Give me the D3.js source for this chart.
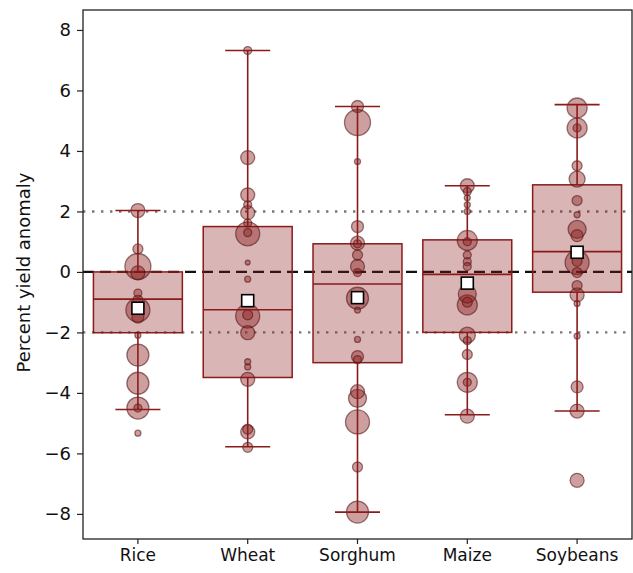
<!DOCTYPE html>
<html lang="en">
<head>
<meta charset="utf-8">
<title>Percent yield anomaly by crop</title>
<style>
   html,body { margin:0; padding:0; background:white; }
   svg { display:block; font-family:"DejaVu Sans",sans-serif; }
</style>
<script src="https://d3js.org/d3.v7.min.js"></script>
</head>
<body>
<script>
// crops and box summaries
let crops = ['Rice','Wheat','Sorghum','Maize','Soybeans'];
let q1 = [-2.01,-3.49,-3.0,-2.0,-0.67];
let med = [-0.9,-1.25,-0.4,-0.08,0.67];
let q3 = [0.0,1.5,0.93,1.06,2.88];
let whiskLo = [-4.55,-5.78,-7.94,-4.72,-4.6];
let whiskHi = [2.03,7.32,5.47,2.85,5.53];
let means = [-1.2,-0.95,-0.85,-0.37,0.65];

// individual estimates per crop, and their weights (marker area)
let riceVals = [2.03,0.76,0.18,-0.03,-0.7,-0.93,-1.26,-1.49,-2.09,-2.75,-3.68,-4.5,-4.5,-5.33];
let riceW = [49,25,169,49,16,25,144,36,9,121,121,121,16,9];
let wheatVals = [7.32,3.78,2.55,2.22,1.96,1.62,1.26,1.3,0.31,-0.24,-1.46,-1.42,-2.01,-2.97,-3.14,-3.55,-5.2,-5.29,-5.8];
let wheatW = [16,49,49,16,49,16,144,16,6,9,144,25,49,9,9,49,25,49,25];
let sorghumVals = [5.47,4.94,3.65,1.5,0.95,0.93,0.56,0.18,-0.02,-0.87,-1.26,-2.23,-2.8,-2.9,-3.96,-4.18,-4.96,-6.45,-7.94];
let sorghumW = [36,169,9,36,49,16,25,49,16,121,9,9,36,16,49,81,144,25,121];
let maizeVals = [2.85,2.66,2.45,2.22,2.0,1.04,1.0,0.56,0.34,0.18,-0.73,-1.0,-1.09,-2.09,-2.27,-2.73,-3.65,-3.65,-4.77];
let maizeW = [49,16,9,9,9,100,16,16,16,16,81,25,100,64,16,25,100,16,49];
let soyVals = [5.42,4.76,4.76,3.51,3.07,2.36,1.89,1.41,1.2,0.31,0.35,-0.02,-0.45,-0.76,-1.04,-2.12,-3.8,-4.6,-6.89];
let soyW = [100,100,16,25,64,25,9,81,36,144,25,25,25,49,9,9,36,49,49];
let pointVals = [riceVals,wheatVals,sorghumVals,maizeVals,soyVals];
let pointW = [riceW,wheatW,sorghumW,maizeW,soyW];

let yTicks = [-8,-6,-4,-2,0,2,4,6,8];
let refLines = [-2,2];

const W = 633, H = 573;
const margin = {top:10, right:1, bottom:34, left:83};
const red = '#8b1a1a';

const svg = d3.select('body').append('svg').attr('width',W).attr('height',H);

const x = d3.scaleBand().domain(crops).range([margin.left, W - margin.right]).padding(0);
const y = d3.scaleLinear().domain([-8.83, 8.66]).range([H - margin.bottom, margin.top]);
const r = d3.scaleSqrt().domain([0,169]).range([0,13]);
const cx = c => x(c) + x.bandwidth()/2;
const boxW = x.bandwidth()*0.81, capW = x.bandwidth()*0.41;

// reference lines under the boxes
svg.append('g').selectAll('line').data(refLines).join('line')
   .attr('x1', margin.left).attr('x2', W - margin.right)
   .attr('y1', d => y(d)).attr('y2', d => y(d))
   .attr('stroke','#777').attr('stroke-width',2.4).attr('stroke-dasharray','2.4,6.6');
svg.append('line')
   .attr('x1', margin.left).attr('x2', W - margin.right)
   .attr('y1', y(0)).attr('y2', y(0))
   .attr('stroke','#111').attr('stroke-width',2.2).attr('stroke-dasharray','11,6');

// boxes
let stats = crops.map((c,i) => ({crop:c, q1:q1[i], med:med[i], q3:q3[i], lo:whiskLo[i], hi:whiskHi[i], mean:means[i]}));
let gb = svg.append('g');
gb.selectAll('rect').data(stats).join('rect')
   .attr('x', d => cx(d.crop) - boxW/2).attr('width', boxW)
   .attr('y', d => y(d.q3)).attr('height', d => y(d.q1) - y(d.q3))
   .attr('fill', red).attr('fill-opacity',0.32)
   .attr('stroke', red).attr('stroke-width',1.5);

// points
let pts = [];
crops.forEach((c,i) => pointVals[i].forEach((v,j) => pts.push({crop:c, v:v, w:pointW[i][j]})));
pts.sort((a,b) => b.w - a.w);
svg.append('g').selectAll('circle').data(pts).join('circle')
   .attr('cx', d => cx(d.crop)).attr('cy', d => y(d.v)).attr('r', d => r(d.w))
   .attr('fill', red).attr('fill-opacity',0.42)
   .attr('stroke','#4a0f0f').attr('stroke-opacity',0.55).attr('stroke-width',1.3);

// whiskers, caps, medians
let gw = svg.append('g').attr('stroke', red).attr('stroke-width',1.6);
gw.selectAll('.wl').data(stats).join('line').attr('class','wl')
   .attr('x1', d => cx(d.crop)).attr('x2', d => cx(d.crop))
   .attr('y1', d => y(d.hi)).attr('y2', d => y(d.q3));
gw.selectAll('.wl2').data(stats).join('line').attr('class','wl2')
   .attr('x1', d => cx(d.crop)).attr('x2', d => cx(d.crop))
   .attr('y1', d => y(d.q1)).attr('y2', d => y(d.lo));
gw.selectAll('.ch').data(stats).join('line').attr('class','ch')
   .attr('x1', d => cx(d.crop) - capW/2).attr('x2', d => cx(d.crop) + capW/2)
   .attr('y1', d => y(d.hi)).attr('y2', d => y(d.hi));
gw.selectAll('.cl').data(stats).join('line').attr('class','cl')
   .attr('x1', d => cx(d.crop) - capW/2).attr('x2', d => cx(d.crop) + capW/2)
   .attr('y1', d => y(d.lo)).attr('y2', d => y(d.lo));
gw.selectAll('.md').data(stats).join('line').attr('class','md')
   .attr('x1', d => cx(d.crop) - boxW/2).attr('x2', d => cx(d.crop) + boxW/2)
   .attr('y1', d => y(d.med)).attr('y2', d => y(d.med));

// mean markers
svg.append('g').selectAll('rect').data(stats).join('rect')
   .attr('x', d => cx(d.crop) - 6).attr('y', d => y(d.mean) - 6)
   .attr('width',12).attr('height',12)
   .attr('fill','white').attr('stroke','black').attr('stroke-width',1.6);

// frame
svg.append('rect')
   .attr('x', margin.left).attr('y', margin.top)
   .attr('width', W - margin.right - margin.left).attr('height', H - margin.bottom - margin.top)
   .attr('fill','none').attr('stroke','#222').attr('stroke-width',1.3);

// axes
let yAxis = svg.append('g').attr('transform',`translate(${margin.left},0)`)
   .call(d3.axisLeft(y).tickValues(yTicks).tickSize(6).tickPadding(6).tickFormat(d => d3.format('')(d).replace('-','\u2212')));
let xAxis = svg.append('g').attr('transform',`translate(0,${H - margin.bottom})`)
   .call(d3.axisBottom(x).tickSize(5).tickPadding(5));
[yAxis,xAxis].forEach(g => {
   g.select('.domain').remove();
   g.selectAll('line').attr('stroke','#222').attr('stroke-width',1.2);
   g.selectAll('text').attr('font-size',18).attr('fill','#111').attr('font-family','"DejaVu Sans",sans-serif');
});
xAxis.selectAll('text').attr('font-size',17);

svg.append('text')
   .attr('transform',`translate(23,${(margin.top + H - margin.bottom)/2 - 2}) rotate(-90)`)
   .attr('text-anchor','middle').attr('dominant-baseline','central').attr('font-size',18).attr('fill','#111')
   .text('Percent yield anomaly');
</script>
</body>
</html>
